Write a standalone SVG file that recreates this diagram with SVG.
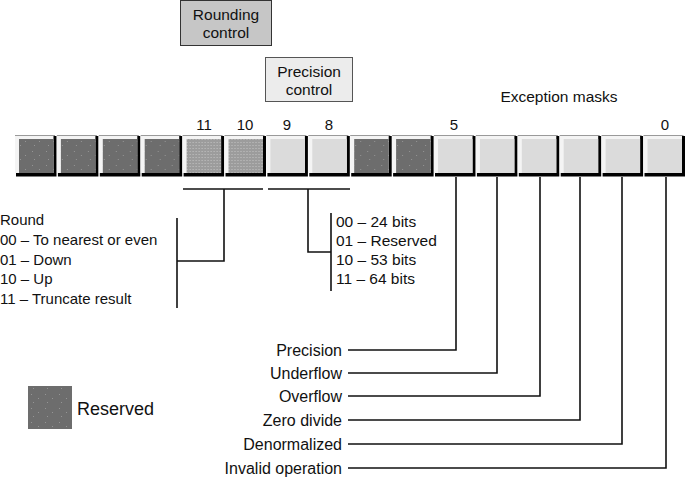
<svg xmlns="http://www.w3.org/2000/svg" width="686" height="480" viewBox="0 0 686 480">
<style>
text{font-family:"Liberation Sans",Arial,sans-serif;fill:#111;}
.t15{font-size:15px;}
.t155{font-size:15.5px;}
.lbl{font-size:16px;text-anchor:end;}
.num{font-size:15px;text-anchor:middle;}
.ln{fill:none;stroke:#111;stroke-width:1.6;}
.sh{fill:#000;}
.hl{fill:#f4f4f4;stroke:none;}
.tp{stroke:#9a9a9a;stroke-width:1;}
.res{fill:url(#pRes);}
.rnd{fill:url(#pRnd);}
.lt{fill:#dbdbdb;}
</style>
<defs>
<pattern id="pRes" width="14" height="14" patternUnits="userSpaceOnUse">
<rect width="14" height="14" fill="#6d6d6d"/>
<rect x="3" y="2" width="1" height="1" fill="#959595"/>
<rect x="10" y="6" width="1" height="1" fill="#959595"/>
<rect x="5" y="10" width="1" height="1" fill="#959595"/>
</pattern>
<pattern id="pRnd" width="3" height="3" patternUnits="userSpaceOnUse">
<rect width="3" height="3" fill="#9c9c9c"/>
<rect x="1" y="1" width="1" height="1" fill="#c4c4c4"/>
</pattern>
<g id="cell">
<rect class="sh" x="1" y="1" width="40.5" height="40.5"/>
<rect class="hl" x="0" y="0" width="38.5" height="38"/>
<line class="tp" x1="0" y1="0.5" x2="40" y2="0.5"/>
</g>
</defs>
<rect width="686" height="480" fill="#fff"/>

<g id="rounding-control">
<rect x="180.5" y="0.5" width="91" height="45" fill="#c6c6c6" stroke="#333" stroke-width="1"/>
<text class="num" x="226" y="20" style="font-size:15.5px">Rounding</text>
<text class="num" x="226" y="38" style="font-size:15.5px">control</text>
</g>
<g id="precision-control">
<rect x="265.5" y="57.5" width="87" height="44" fill="#ececec" stroke="#555" stroke-width="1"/>
<text class="num" x="309" y="77" style="font-size:15.5px">Precision</text>
<text class="num" x="309" y="95" style="font-size:15.5px">control</text>
</g>
<g id="exception-masks-label">
<text class="num" x="559" y="102" style="font-size:15.5px">Exception masks</text>
</g>

<g id="bit-numbers">
<text class="num" x="204" y="130">11</text>
<text class="num" x="245" y="130">10</text>
<text class="num" x="287" y="130">9</text>
<text class="num" x="329" y="130">8</text>
<text class="num" x="454" y="130">5</text>
<text class="num" x="665" y="130">0</text>
</g>

<g id="register">
<g id="bit15" transform="translate(15,135)"><use href="#cell"/><rect class="res" x="4" y="4" width="34.5" height="34"/></g>
<g id="bit14" transform="translate(56.9,135)"><use href="#cell"/><rect class="res" x="4" y="4" width="34.5" height="34"/></g>
<g id="bit13" transform="translate(98.8,135)"><use href="#cell"/><rect class="res" x="4" y="4" width="34.5" height="34"/></g>
<g id="bit12" transform="translate(140.7,135)"><use href="#cell"/><rect class="res" x="4" y="4" width="34.5" height="34"/></g>
<g id="bit11" transform="translate(182.6,135)"><use href="#cell"/><rect class="rnd" x="4" y="4" width="34.5" height="34"/></g>
<g id="bit10" transform="translate(224.5,135)"><use href="#cell"/><rect class="rnd" x="4" y="4" width="34.5" height="34"/></g>
<g id="bit9" transform="translate(266.4,135)"><use href="#cell"/><rect class="lt" x="4" y="4" width="34.5" height="34"/></g>
<g id="bit8" transform="translate(308.3,135)"><use href="#cell"/><rect class="lt" x="4" y="4" width="34.5" height="34"/></g>
<g id="bit7" transform="translate(350.2,135)"><use href="#cell"/><rect class="res" x="4" y="4" width="34.5" height="34"/></g>
<g id="bit6" transform="translate(392.1,135)"><use href="#cell"/><rect class="res" x="4" y="4" width="34.5" height="34"/></g>
<g id="bit5" transform="translate(434,135)"><use href="#cell"/><rect class="lt" x="4" y="4" width="34.5" height="34"/></g>
<g id="bit4" transform="translate(475.9,135)"><use href="#cell"/><rect class="lt" x="4" y="4" width="34.5" height="34"/></g>
<g id="bit3" transform="translate(517.8,135)"><use href="#cell"/><rect class="lt" x="4" y="4" width="34.5" height="34"/></g>
<g id="bit2" transform="translate(559.7,135)"><use href="#cell"/><rect class="lt" x="4" y="4" width="34.5" height="34"/></g>
<g id="bit1" transform="translate(601.6,135)"><use href="#cell"/><rect class="lt" x="4" y="4" width="34.5" height="34"/></g>
<g id="bit0" transform="translate(643.5,135)"><use href="#cell"/><rect class="lt" x="4" y="4" width="34.5" height="34"/></g>
</g>

<g id="connectors">
<path class="ln" d="M183 189H263"/>
<path class="ln" d="M268 189H350"/>
<path class="ln" d="M224 189V261H177"/>
<path class="ln" d="M177 218V308"/>
<path class="ln" d="M308 189V252H331"/>
<path class="ln" d="M331 213V291"/>
<path class="ln" d="M456 177V350H348"/>
<path class="ln" d="M497 177V373H348"/>
<path class="ln" d="M540 177V396H348"/>
<path class="ln" d="M580 177V420H348"/>
<path class="ln" d="M622 177V444H348"/>
<path class="ln" d="M666 177V468H348"/>
</g>

<g id="rounding-values">
<text class="t15" x="0" y="225">Round</text>
<text class="t15" x="0" y="245">00 – To nearest or even</text>
<text class="t15" x="0" y="265">01 – Down</text>
<text class="t15" x="0" y="284">10 – Up</text>
<text class="t15" x="0" y="304">11 – Truncate result</text>
</g>
<g id="precision-values">
<text class="t155" x="336" y="227">00 – 24 bits</text>
<text class="t155" x="336" y="246">01 – Reserved</text>
<text class="t155" x="336" y="265">10 – 53 bits</text>
<text class="t155" x="336" y="284">11 – 64 bits</text>
</g>
<g id="exception-labels">
<text class="lbl" x="342" y="356">Precision</text>
<text class="lbl" x="342" y="379">Underflow</text>
<text class="lbl" x="342" y="402">Overflow</text>
<text class="lbl" x="342" y="426">Zero divide</text>
<text class="lbl" x="342" y="450">Denormalized</text>
<text class="lbl" x="342" y="474">Invalid operation</text>
</g>
<g id="legend">
<rect x="28" y="386" width="44" height="43" fill="url(#pRes)"/>
<text x="77" y="415" style="font-size:18px">Reserved</text>
</g>
</svg>
